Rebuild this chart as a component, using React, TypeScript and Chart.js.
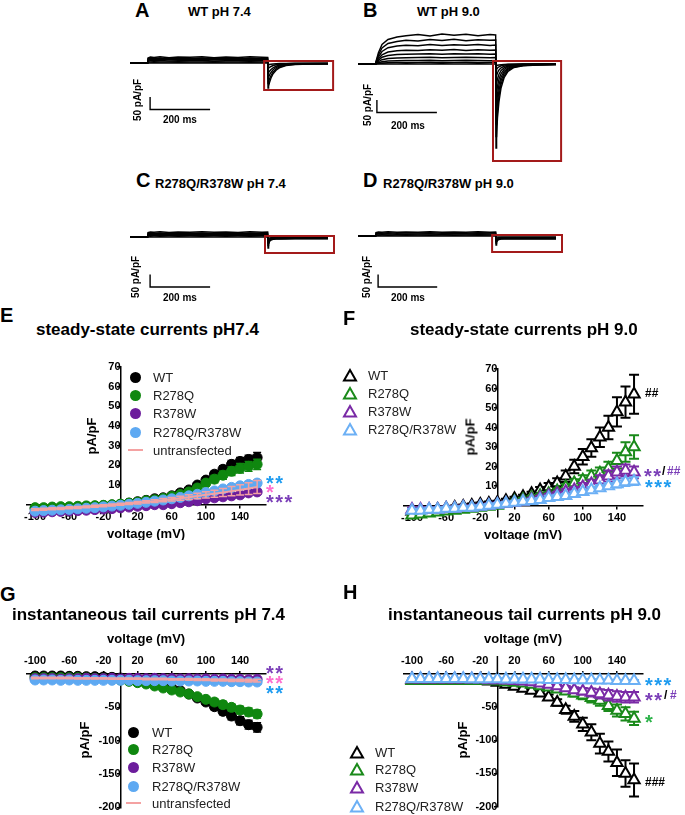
import React, { useEffect, useRef } from "react";
import { Chart, registerables } from "chart.js";
Chart.register(...registerables);

const FONT = "'Liberation Sans', Arial, Helvetica, sans-serif";
Chart.defaults.font.family = FONT;

// ---------------- data ----------------
const voltages = [-100, -90, -80, -70, -60, -50, -40, -30, -20, -10, 0, 10, 20, 30, 40, 50, 60, 70, 80, 90, 100, 110, 120, 130, 140, 150, 160];
const xTickValues = [-100, -60, -20, 20, 60, 100, 140];
const steadyTicks = [10, 20, 30, 40, 50, 60, 70];
const tailTicks = [-50, -100, -150, -200];
const seriesNames = ["WT", "R278Q", "R378W", "R278Q/R378W", "untransfected"];

// E: steady-state pH 7.4
const eWT = [-2, -2, -1.8, -1.6, -1.4, -1.2, -1, -0.8, -0.5, -0.2, 0.2, 0.8, 1.5, 2.2, 3, 3.5, 4.5, 6, 7.5, 10, 12.5, 15.5, 18, 20.5, 22, 23, 24];
const eWTerr = [0.5, 0.5, 0.5, 0.5, 0.5, 0.5, 0.5, 0.5, 0.5, 0.5, 0.5, 0.5, 0.5, 0.5, 0.5, 0.5, 0.8, 1, 1, 1.2, 1.3, 1.5, 1.8, 2, 2, 2.2, 2.5];
const eR278Q = [-1.5, -1.5, -1.2, -1, -1, -0.8, -0.6, -0.5, -0.3, 0, 0.3, 0.8, 1.3, 2, 2.5, 3.2, 4.2, 5.2, 6.5, 8.5, 11, 13, 15, 17, 18.5, 19.5, 20.5];
const eR278Qerr = [0.5, 0.5, 0.5, 0.5, 0.5, 0.5, 0.5, 0.5, 0.5, 0.5, 0.5, 0.5, 0.5, 0.5, 0.6, 0.7, 0.8, 1, 1.2, 1.4, 1.6, 1.8, 2, 2.2, 2.4, 2.5, 2.6];
const eR378W = [-4, -3.8, -3.6, -3.4, -3.2, -3, -2.8, -2.5, -2.2, -2, -1.6, -1.2, -0.8, -0.5, 0, 0, 0.5, 1, 1.5, 2, 3, 3.5, 4, 4.5, 5, 6, 6.5];
const eR378Werr = [0.5, 0.5, 0.5, 0.5, 0.5, 0.5, 0.5, 0.5, 0.5, 0.5, 0.5, 0.5, 0.5, 0.5, 0.5, 0.5, 0.5, 0.6, 0.6, 0.7, 0.8, 0.8, 0.9, 1, 1, 1.1, 1.2];
const eDouble = [-3.3, -3, -2.8, -2.6, -2.4, -2.1, -1.8, -1.5, -1.1, -0.7, -0.3, 0.2, 0.7, 1.2, 1.8, 2.4, 3, 3.7, 4.5, 5.3, 6.2, 7, 8, 8.8, 9.6, 10.3, 11];
const eDoubleErr = [0.5, 0.5, 0.5, 0.5, 0.5, 0.5, 0.5, 0.5, 0.5, 0.5, 0.5, 0.5, 0.5, 0.5, 0.6, 0.6, 0.7, 0.8, 0.9, 1, 1.1, 1.2, 1.3, 1.4, 1.5, 1.6, 1.7];
const eUntr = [-2.5, -2.3, -2.1, -1.9, -1.6, -1.4, -1.1, -0.8, -0.5, -0.2, 0.2, 0.6, 1, 1.4, 1.8, 2.3, 2.8, 3.3, 3.8, 4.4, 5, 5.6, 6.2, 6.9, 7.5, 8.2, 9];
const eUntrErr = [0.5, 0.5, 0.5, 0.5, 0.5, 0.5, 0.5, 0.5, 0.5, 0.5, 0.5, 0.5, 0.6, 0.6, 0.7, 0.8, 0.9, 1, 1.2, 1.4, 1.6, 1.8, 2, 2.3, 2.6, 3, 3.3];

// F: steady-state pH 9.0
const fWT = [-3, -2.6, -2.3, -2, -1.5, -1, -0.5, 0, 0.5, 1, 1.5, 2.5, 3.5, 4.5, 6, 8, 9.5, 11.5, 15, 20, 25, 29.5, 35, 40, 48, 53, 57];
const fWTerr = [1, 1, 1, 1, 1, 1, 1, 1, 1, 1, 1, 1, 1, 1, 1, 1.5, 2, 2.5, 3, 3.5, 4, 4.5, 5, 6, 7.5, 8, 10];
const fR278Q = [-5, -4.5, -4, -3.5, -3, -2.5, -2, -1.5, -1, -0.5, 0, 1, 2, 3, 4, 5, 6, 7.5, 9.5, 11.5, 13, 15, 16.5, 19, 23, 27.5, 30];
const fR278Qerr = [1, 1, 1, 1, 1, 1, 1, 1, 1, 1, 1, 1, 1, 1, 1, 1, 1, 1.2, 1.5, 2, 2.5, 3, 3, 3.5, 4, 5, 6];
const fR378W = [-2, -2, -2, -2, -1.5, -1.5, -1, -1, -0.5, 0, 0.5, 1, 1.5, 2, 3, 4, 5, 6, 7, 8, 9.5, 11, 13, 15, 17, 18, 17];
const fR378Werr = [1, 1, 1, 1, 1, 1, 1, 1, 1, 1, 1, 1, 1, 1, 1, 1, 1, 1, 1.5, 1.5, 2, 2, 2.5, 3, 3, 3, 3];
const fDouble = [-2.5, -2.5, -2, -2, -1.5, -1.5, -1, -1, -0.5, 0, 0.5, 1, 1.5, 2, 2.5, 3, 4, 4.5, 5, 6, 7, 8, 9, 10, 11, 12, 12.5];
const fDoubleErr = [0.8, 0.8, 0.8, 0.8, 0.8, 0.8, 0.8, 0.8, 0.8, 0.8, 0.8, 0.8, 0.8, 0.8, 0.8, 0.8, 1, 1, 1, 1.2, 1.2, 1.5, 1.5, 1.5, 1.8, 2, 2];

// G: tail pH 7.4
const gWT = [-3, -3, -3, -3, -3.5, -3.5, -4, -4, -4.5, -5, -6, -8, -10, -12, -15, -18, -21, -25, -30, -36, -42, -49, -56, -63, -70, -76, -80];
const gWTerr = [1, 1, 1, 1, 1, 1, 1, 1, 1, 1, 1, 1, 1, 1, 1, 1.5, 2, 2.5, 3, 3.5, 4, 4.5, 5, 5.5, 6, 6.5, 7];
const gR278Q = [-5.5, -5.5, -5.5, -5.5, -5.5, -5.5, -6, -6.5, -7, -8, -9, -11, -13, -15, -18, -21, -24, -27, -30, -34, -38, -42, -46, -50, -54, -57, -60];
const gR278Qerr = [1, 1, 1, 1, 1, 1, 1, 1, 1, 1, 1, 1, 1.5, 1.5, 2, 2, 2.5, 2.5, 3, 3.5, 4, 4.5, 5, 5, 5.5, 6, 6];
const gR378W = [-7, -7, -7, -7.5, -7, -7, -6.5, -7, -7, -6.5, -7, -6.5, -6.5, -7, -6.5, -7, -7, -7.5, -7, -7.5, -7.5, -8, -7.5, -8, -8, -8.5, -8];
const gR378Werr = [1, 1, 1, 1, 1, 1, 1, 1, 1, 1, 1, 1, 1, 1, 1, 1, 1, 1, 1, 1, 1, 1, 1, 1, 1, 1, 1];
const gDouble = [-9, -9, -9, -9.5, -9, -9.5, -9.5, -9.5, -9.5, -9.5, -9.5, -9.5, -10, -10, -10, -10, -10.5, -10.5, -10.5, -10.5, -11, -11, -11, -11.5, -11.5, -12, -12];
const gDoubleErr = [1, 1, 1, 1, 1, 1, 1, 1, 1, 1, 1, 1, 1, 1, 1, 1, 1, 1, 1, 1, 1, 1, 1, 1, 1, 1, 1];
const gUntr = [-6, -6, -6, -6, -6, -6.5, -6.5, -6.5, -6.5, -7, -7, -7, -7, -7.5, -7.5, -7.5, -8, -8, -8, -8.5, -8.5, -9, -9, -9.5, -9.5, -10, -10];
const gUntrErr = [1, 1, 1, 1, 1, 1, 1, 1, 1, 1, 1, 1, 1, 1, 1, 1, 1, 1, 1.2, 1.2, 1.4, 1.4, 1.6, 1.6, 1.8, 2, 2];

// H: tail pH 9.0
const hWT = [-8, -8, -8, -8, -8, -8, -9, -9, -10, -11, -13, -16, -19, -22, -25, -29, -35, -43, -54, -64, -76, -88, -105, -117, -134, -150, -160];
const hWTerr = [2, 2, 2, 2, 2, 2, 2, 2, 2, 2, 2, 2, 2, 2, 2, 3, 4, 5, 6, 8, 10, 12, 15, 15, 20, 20, 25];
const hR278Q = [-10, -10, -10, -10, -10, -10, -10, -10, -10, -10, -11, -12, -13, -14, -16, -18, -20, -23, -26, -29, -32, -36, -40, -48, -55, -60, -67];
const hR278Qerr = [2, 2, 2, 2, 2, 2, 2, 2, 2, 2, 2, 2, 2, 2, 2, 3, 3, 4, 4, 5, 6, 7, 8, 8, 9, 10, 10];
const hR378W = [-8, -8, -8, -8, -8, -8, -8, -8, -8, -9, -9, -9.5, -10, -11, -12, -14, -16, -18, -21, -24, -26, -28, -30, -32, -34, -35, -35];
const hR378Werr = [1, 1, 1, 1, 1, 1, 1, 1, 1, 1, 1, 1, 1, 1, 1, 2, 2, 3, 3, 4, 5, 6, 7, 8, 8, 8, 8];
const hDouble = [-7, -7, -7, -7, -7, -7, -7, -7.5, -7.5, -7.5, -7.5, -8, -8, -8, -8, -8, -8.5, -8.5, -8.5, -9, -9, -9, -9.5, -9.5, -10, -10, -10];
const hDoubleErr = [1, 1, 1, 1, 1, 1, 1, 1, 1, 1, 1, 1, 1, 1, 1, 1, 1, 1, 1, 1, 1, 1, 1, 1, 1, 1, 1];

// Current traces (ms, pA/pF)
const traceTimes = [-60, -1, 0, 8, 20, 40, 70, 100, 140, 180, 220, 260, 300, 340, 380, 399, 400, 402, 405, 410, 417, 427, 440, 460, 490, 540, 600];
const traceA = [
  [0, 0, 20, 24, 22, 25, 21, 24, 23, 25, 21, 24, 22, 25, 23, 22, -100, -92, -78, -60, -43, -29, -18, -10, -6, -4, -4],
  [0, 0, 17, 19, 18, 20, 17, 19, 18, 20, 18, 19, 17, 20, 18, 19, -82, -76, -64, -50, -36, -24, -15, -8, -5, -4, -3],
  [0, 0, 12, 14, 13, 15, 13, 14, 14, 15, 13, 14, 13, 15, 14, 14, -62, -57, -48, -38, -27, -18, -11, -6, -4, -3, -3],
  [0, 0, 8, 9, 9, 10, 8, 9, 9, 10, 8, 9, 9, 10, 9, 9, -42, -39, -33, -26, -19, -13, -8, -5, -3, -2, -2],
  [0, 0, 4, 4, 5, 4, 4, 5, 4, 4, 5, 4, 4, 5, 4, 4, -22, -20, -17, -14, -10, -7, -5, -3, -2, -2, -1],
  [0, 0, 0, 0, 1, 0, 0, 1, 0, 0, 1, 0, 0, 1, 0, 0, -8, -7, -6, -5, -4, -3, -2, -2, -1, -1, -1],
];
const traceB = [
  [0, 0, 10, 45, 78, 98, 108, 113, 118, 112, 120, 115, 119, 113, 118, 116, -336, -290, -215, -150, -95, -55, -30, -14, -7, -4, -2],
  [0, 0, 8, 36, 64, 82, 90, 95, 92, 98, 94, 99, 93, 97, 95, 96, -290, -250, -185, -128, -80, -47, -25, -12, -6, -3, -2],
  [0, 0, 6, 28, 50, 65, 72, 75, 73, 78, 74, 77, 75, 78, 74, 76, -240, -205, -152, -105, -66, -38, -20, -10, -5, -3, -2],
  [0, 0, 5, 20, 37, 48, 53, 55, 54, 57, 55, 58, 54, 57, 55, 56, -190, -162, -120, -82, -52, -30, -16, -8, -4, -2, -1],
  [0, 0, 4, 14, 27, 34, 38, 39, 40, 41, 39, 41, 40, 41, 39, 40, -140, -120, -88, -60, -38, -22, -12, -6, -3, -2, -1],
  [0, 0, 3, 9, 17, 22, 24, 25, 26, 27, 25, 26, 27, 26, 25, 26, -95, -80, -60, -41, -26, -15, -8, -4, -2, -1, -1],
  [0, 0, 2, 5, 9, 12, 13, 14, 14, 15, 13, 14, 15, 14, 13, 14, -55, -47, -35, -24, -15, -9, -5, -3, -1, -1, 0],
  [0, 0, 1, 2, 4, 5, 6, 6, 6, 7, 6, 6, 7, 6, 6, 6, -25, -21, -16, -11, -7, -4, -2, -1, -1, 0, 0],
  [0, 0, 0, 0, 1, 0, 0, 1, 0, 0, 1, 0, 0, 1, 0, 0, -8, -7, -5, -4, -3, -2, -1, -1, 0, 0, 0],
];
const traceC = [
  [0, 0, 18, 20, 19, 21, 18, 20, 19, 21, 19, 20, 18, 21, 19, 20, -44, -30, -18, -12, -9, -8, -8, -8, -7, -7, -7],
  [0, 0, 14, 15, 14, 16, 14, 15, 15, 16, 14, 15, 14, 16, 15, 15, -34, -24, -15, -10, -8, -7, -7, -6, -6, -6, -6],
  [0, 0, 9, 10, 10, 11, 9, 10, 10, 11, 9, 10, 10, 11, 10, 10, -24, -17, -11, -8, -6, -5, -5, -5, -5, -5, -5],
  [0, 0, 5, 5, 6, 5, 5, 6, 5, 5, 6, 5, 5, 6, 5, 5, -14, -10, -7, -5, -4, -4, -4, -4, -4, -4, -4],
  [0, 0, 0, 1, 0, 1, 0, 1, 0, 1, 0, 1, 0, 1, 0, 1, -6, -5, -4, -3, -3, -2, -2, -2, -2, -2, -2],
];
const traceD = [
  [0, 0, 14, 16, 15, 17, 15, 16, 15, 17, 15, 16, 15, 17, 15, 16, -36, -26, -18, -14, -12, -12, -12, -12, -12, -12, -12],
  [0, 0, 11, 12, 11, 13, 11, 12, 12, 13, 11, 12, 11, 13, 12, 12, -28, -21, -15, -12, -11, -10, -10, -10, -10, -10, -10],
  [0, 0, 7, 8, 8, 9, 7, 8, 8, 9, 7, 8, 8, 9, 8, 8, -20, -15, -11, -9, -8, -8, -8, -8, -8, -8, -8],
  [0, 0, 4, 4, 5, 4, 4, 5, 4, 4, 5, 4, 4, 5, 4, 4, -12, -10, -8, -7, -6, -6, -6, -6, -6, -6, -6],
  [0, 0, 0, 1, 0, 1, 0, 1, 0, 1, 0, 1, 0, 1, 0, 1, -6, -5, -4, -4, -4, -4, -4, -4, -4, -4, -4],
];
// tail-window boxes [t0, t1, I top, I bottom] and scale bars [t, I top, I bottom, t end]
const boxA = [387, 617, 8, -108];
const boxB = [390, 617, 12, -388];
const boxC = [390, 620, 4, -64];
const boxD = [387, 620, 4, -64];
const barA = [7, -136, -186, 207];
const barB = [3, -144, -194, 203];
const barC = [7, -150, -200, 207];
const barD = [7, -154, -204, 204];

// ---------------- styles ----------------
const C_E = { wt: "#000000", r278q: "#0f870f", r378w: "#6c1d9c", dbl: "#5ea9f2", untr: "#f4a2a2" };
const C_F = { wt: "#000000", r278q: "#1a8a1a", r378w: "#7a2aa6", dbl: "#6cb0f5" };
const STAR = { blue: "#1f9cf0", pink: "#ff6fd0", purple: "#7b3fb8", green: "#2db34a" };

// ---------------- plugins ----------------
const errorBarPlugin = {
  id: "errorBars",
  beforeDatasetDraw(chart: any, args: any) {
    const ds: any = chart.data.datasets[args.index];
    if (!ds.errors) return;
    const yS = chart.scales.y;
    const ctx = chart.ctx;
    ctx.save();
    ctx.strokeStyle = ds.errColor;
    ctx.lineWidth = ds.errWidth || 1.5;
    const c = ds.capHalf || 4;
    args.meta.data.forEach((pt: any, i: number) => {
      const v = ds.data[i].y;
      const e = ds.errors[i];
      if (!e) return;
      const yt = yS.getPixelForValue(v + e);
      const yb = yS.getPixelForValue(v - e);
      ctx.beginPath();
      ctx.moveTo(pt.x, yt);
      ctx.lineTo(pt.x, yb);
      ctx.moveTo(pt.x - c, yt);
      ctx.lineTo(pt.x + c, yt);
      ctx.moveTo(pt.x - c, yb);
      ctx.lineTo(pt.x + c, yb);
      ctx.stroke();
    });
    ctx.restore();
  },
};

const axisStubPlugin = {
  id: "axisStub",
  afterDraw(chart: any, _a: any, opts: any) {
    const x0 = chart.scales.x.getPixelForValue(0);
    const top = chart.chartArea.top;
    const ctx = chart.ctx;
    ctx.save();
    ctx.strokeStyle = "#000";
    ctx.lineWidth = 1.5;
    ctx.beginPath();
    ctx.moveTo(x0, top);
    ctx.lineTo(x0, top - (opts.length || 18));
    ctx.stroke();
    ctx.restore();
  },
};

const traceDecoPlugin = {
  id: "traceDeco",
  afterDatasetsDraw(chart: any, _a: any, opts: any) {
    const xs = chart.scales.x;
    const ys = chart.scales.y;
    const ctx = chart.ctx;
    const [t0, t1, i0, i1] = opts.box;
    ctx.save();
    ctx.strokeStyle = "#a31a1a";
    ctx.lineWidth = 2;
    const bx = xs.getPixelForValue(t0);
    const by = ys.getPixelForValue(i0);
    ctx.strokeRect(bx, by, xs.getPixelForValue(t1) - bx, ys.getPixelForValue(i1) - by);
    const [tb, ib0, ib1, tb1] = opts.bar;
    ctx.strokeStyle = "#000";
    ctx.lineWidth = 1.4;
    ctx.beginPath();
    ctx.moveTo(xs.getPixelForValue(tb), ys.getPixelForValue(ib0));
    ctx.lineTo(xs.getPixelForValue(tb), ys.getPixelForValue(ib1));
    ctx.lineTo(xs.getPixelForValue(tb1), ys.getPixelForValue(ib1));
    ctx.stroke();
    ctx.restore();
  },
};

// ---------------- config builders ----------------
const tickFont = { size: 11, weight: "bold" as const, family: FONT };
const axisTitleFont = { size: 13, weight: "bold" as const, family: FONT };

function pts(vals: number[]) {
  return voltages.map((v, i) => ({ x: v, y: vals[i] }));
}

function circleSet(i: number, vals: number[], errs: number[], color: string) {
  return {
    label: seriesNames[i],
    data: pts(vals),
    errors: errs,
    errColor: color,
    errWidth: 1.5,
    capHalf: 4,
    showLine: false,
    pointStyle: "circle",
    pointRadius: 5,
    pointBorderWidth: 1,
    pointBackgroundColor: color,
    pointBorderColor: color,
    borderColor: color,
    backgroundColor: color,
    order: 4 - i,
    clip: false,
  };
}

function triSet(i: number, vals: number[], errs: number[], color: string) {
  return {
    label: seriesNames[i],
    data: pts(vals),
    errors: errs,
    errColor: color,
    errWidth: 2,
    capHalf: 5,
    showLine: false,
    pointStyle: "triangle",
    pointRadius: 6.5,
    pointBorderWidth: 2,
    pointBackgroundColor: "#ffffff",
    pointBorderColor: color,
    borderColor: color,
    backgroundColor: "#ffffff",
    order: 4 - i,
    clip: false,
  };
}

function lineSet(i: number, vals: number[], errs: number[], color: string) {
  return {
    label: seriesNames[i],
    data: pts(vals),
    errors: errs,
    errColor: color,
    errWidth: 1.5,
    capHalf: 4,
    showLine: true,
    borderColor: color,
    borderWidth: 2,
    pointRadius: 0,
    tension: 0,
    order: 4 - i,
    clip: false,
  };
}

function xAxisBase() {
  return {
    type: "linear",
    min: -110,
    max: 170,
    afterBuildTicks: (s: any) => {
      s.ticks = xTickValues.map((v) => ({ value: v }));
    },
    ticks: { autoSkip: false, maxRotation: 0, font: tickFont, color: "#000", padding: 3 },
    grid: { drawOnChartArea: false, drawTicks: true, tickLength: 3, color: "#000", lineWidth: 1.5 },
    border: { display: true, color: "#000", width: 1.5 },
  };
}

function yAxisBase(min: number, max: number, tickVals: number[]) {
  return {
    type: "linear",
    min,
    max,
    position: { x: 0 },
    afterBuildTicks: (s: any) => {
      s.ticks = tickVals.map((v) => ({ value: v }));
    },
    ticks: { autoSkip: false, font: tickFont, color: "#000", padding: 1 },
    grid: { drawOnChartArea: false, drawTicks: true, tickLength: 3, color: "#000", lineWidth: 1.5 },
    border: { display: true, color: "#000", width: 1.5 },
    title: { display: false },
  };
}

function steadyConfig(datasets: any[], padding: any) {
  return {
    type: "line",
    data: { datasets },
    options: {
      responsive: false,
      animation: false,
      events: [],
      layout: { padding },
      plugins: { legend: { display: false }, tooltip: { enabled: false } },
      scales: {
        x: {
          ...xAxisBase(),
          position: { y: 0 },
          title: { display: true, text: "voltage (mV)", font: axisTitleFont, color: "#000", padding: { top: 0, bottom: 0 } },
        },
        y: yAxisBase(-6, 70, steadyTicks),
      },
    },
    plugins: [errorBarPlugin],
  };
}

function tailConfig(datasets: any[], padding: any) {
  return {
    type: "line",
    data: { datasets },
    options: {
      responsive: false,
      animation: false,
      events: [],
      layout: { padding },
      plugins: { legend: { display: false }, tooltip: { enabled: false }, axisStub: { length: 18 } },
      scales: {
        x: {
          ...xAxisBase(),
          position: "top",
          title: { display: true, text: "voltage (mV)", font: axisTitleFont, color: "#000", padding: { top: 0, bottom: 5 } },
        },
        y: yAxisBase(-200, 0, tailTicks),
      },
    },
    plugins: [errorBarPlugin, axisStubPlugin],
  };
}

function traceConfig(traces: number[][], yMin: number, yMax: number, box: number[], bar: number[]) {
  return {
    type: "line",
    data: {
      datasets: traces.map((v) => ({
        data: traceTimes.map((t, i) => ({ x: t, y: v[i] })),
        borderColor: "#000",
        borderWidth: 1.4,
        pointRadius: 0,
        tension: 0,
        fill: false,
      })),
    },
    options: {
      responsive: false,
      animation: false,
      events: [],
      layout: { padding: 0 },
      plugins: { legend: { display: false }, tooltip: { enabled: false }, traceDeco: { box, bar } },
      scales: {
        x: { type: "linear", display: false, min: -70, max: 640 },
        y: { type: "linear", display: false, min: yMin, max: yMax },
      },
    },
    plugins: [traceDecoPlugin],
  };
}

// ---------------- components ----------------
function ChartBox({ left, top, width, height, make }: { left: number; top: number; width: number; height: number; make: () => any }) {
  const ref = useRef<HTMLCanvasElement>(null);
  useEffect(() => {
    const chart = new Chart(ref.current as HTMLCanvasElement, make());
    return () => chart.destroy();
  }, []);
  return <canvas ref={ref} width={width} height={height} style={{ position: "absolute", left, top, width, height }} />;
}

function Txt({ x, cy, size, bold = true, color = "#000", children }: any) {
  return (
    <div
      style={{
        position: "absolute",
        left: x,
        top: cy - 0.49 * size,
        fontSize: size,
        lineHeight: 1,
        fontWeight: bold ? "bold" : "normal",
        color,
        whiteSpace: "nowrap",
      }}
    >
      {children}
    </div>
  );
}

function RotTxt({ cx, cy, size, children }: any) {
  return (
    <div
      style={{
        position: "absolute",
        left: cx,
        top: cy,
        fontSize: size,
        lineHeight: 1,
        fontWeight: "bold",
        whiteSpace: "nowrap",
        transform: "translate(-50%,-50%) rotate(-90deg)",
      }}
    >
      {children}
    </div>
  );
}

function Stars({ x, cy, text, color, size = 20 }: any) {
  return (
    <div
      style={{
        position: "absolute",
        left: x,
        top: cy - 0.262 * size,
        fontSize: size,
        lineHeight: 1,
        fontWeight: "bold",
        color,
        letterSpacing: 1.5,
        whiteSpace: "nowrap",
      }}
    >
      {text}
    </div>
  );
}

function Circle({ cx, cy, color }: any) {
  return <div style={{ position: "absolute", left: cx - 5.5, top: cy - 5.5, width: 11, height: 11, borderRadius: "50%", background: color }} />;
}
function LegLine({ cx, cy, color }: any) {
  return <div style={{ position: "absolute", left: cx - 7.5, top: cy - 1, width: 15, height: 2, background: color }} />;
}
function Tri({ cx, cy, color }: any) {
  return (
    <svg style={{ position: "absolute", left: cx - 8, top: cy - 7 }} width={16} height={14}>
      <polygon points="8,2 14,12.5 2,12.5" fill="#fff" stroke={color} strokeWidth={2} strokeLinejoin="miter" />
    </svg>
  );
}

function LegendRows({ mx, tx, rows, colors, kind }: any) {
  return (
    <>
      {rows.map((cy: number, i: number) => (
        <React.Fragment key={i}>
          {kind === "tri" ? (
            <Tri cx={mx} cy={cy} color={colors[i]} />
          ) : i === 4 ? (
            <LegLine cx={mx} cy={cy} color={colors[i]} />
          ) : (
            <Circle cx={mx} cy={cy} color={colors[i]} />
          )}
          <Txt x={tx} cy={cy} size={13} bold={false} color="#222">
            {seriesNames[i]}
          </Txt>
        </React.Fragment>
      ))}
    </>
  );
}

export default function App() {
  const eColors = [C_E.wt, C_E.r278q, C_E.r378w, C_E.dbl, C_E.untr];
  const fColors = [C_F.wt, C_F.r278q, C_F.r378w, C_F.dbl];

  const makeE = () =>
    steadyConfig(
      [
        circleSet(0, eWT, eWTerr, C_E.wt),
        circleSet(1, eR278Q, eR278Qerr, C_E.r278q),
        circleSet(2, eR378W, eR378Werr, C_E.r378w),
        circleSet(3, eDouble, eDoubleErr, C_E.dbl),
        lineSet(4, eUntr, eUntrErr, C_E.untr),
      ],
      { left: 26.56, right: 74.32, top: 27, bottom: 23.5 }
    );
  const makeF = () =>
    steadyConfig(
      [
        triSet(0, fWT, fWTerr, C_F.wt),
        triSet(1, fR278Q, fR278Qerr, C_F.r278q),
        triSet(2, fR378W, fR378Werr, C_F.r378w),
        triSet(3, fDouble, fDoubleErr, C_F.dbl),
      ],
      { left: 63.46, right: 42.42, top: 29, bottom: 22.8 }
    );
  const makeG = () =>
    tailConfig(
      [
        circleSet(0, gWT, gWTerr, C_E.wt),
        circleSet(1, gR278Q, gR278Qerr, C_E.r278q),
        circleSet(2, gR378W, gR378Werr, C_E.r378w),
        circleSet(3, gDouble, gDoubleErr, C_E.dbl),
        lineSet(4, gUntr, gUntrErr, C_E.untr),
      ],
      { left: 26.56, right: 74.32, top: 11.2, bottom: 6.5 }
    );
  const makeH = () =>
    tailConfig(
      [
        triSet(0, hWT, hWTerr, C_F.wt),
        triSet(1, hR278Q, hR278Qerr, C_F.r278q),
        triSet(2, hR378W, hR378Werr, C_F.r378w),
        triSet(3, hDouble, hDoubleErr, C_F.dbl),
      ],
      { left: 63.46, right: 42.42, top: 11.2, bottom: 6 }
    );

  return (
    <div style={{ position: "fixed", left: 0, top: 0, width: 685, height: 815, background: "#fff", overflow: "hidden", fontFamily: FONT, color: "#000" }}>
      {/* Traces A-D */}
      <ChartBox left={127} top={25} width={213} height={110} make={() => traceConfig(traceA, -288, 152, boxA, barA)} />
      <ChartBox left={355} top={25} width={213} height={140} make={() => traceConfig(traceB, -404, 156, boxB, barB)} />
      <ChartBox left={127} top={200} width={213} height={105} make={() => traceConfig(traceC, -272, 148, boxC, barC)} />
      <ChartBox left={355} top={200} width={213} height={105} make={() => traceConfig(traceD, -276, 144, boxD, barD)} />

      <Txt x={135} cy={10} size={20}>A</Txt>
      <Txt x={188} cy={11} size={13}>WT pH 7.4</Txt>
      <Txt x={363} cy={10} size={20}>B</Txt>
      <Txt x={417} cy={11} size={13}>WT pH 9.0</Txt>
      <Txt x={136} cy={180} size={20}>C</Txt>
      <Txt x={155} cy={183} size={13}>R278Q/R378W pH 7.4</Txt>
      <Txt x={363} cy={180} size={20}>D</Txt>
      <Txt x={383} cy={183} size={13}>R278Q/R378W pH 9.0</Txt>

      <RotTxt cx={138} cy={100} size={10}>50 pA/pF</RotTxt>
      <Txt x={163} cy={120} size={10}>200 ms</Txt>
      <RotTxt cx={368} cy={105} size={10}>50 pA/pF</RotTxt>
      <Txt x={391} cy={126} size={10}>200 ms</Txt>
      <RotTxt cx={136} cy={277} size={10}>50 pA/pF</RotTxt>
      <Txt x={163} cy={298} size={10}>200 ms</Txt>
      <RotTxt cx={367} cy={277} size={10}>50 pA/pF</RotTxt>
      <Txt x={391} cy={298} size={10}>200 ms</Txt>

      {/* E */}
      <ChartBox left={0} top={340} width={340} height={200} make={makeE} />
      <Txt x={0} cy={315} size={20}>E</Txt>
      <Txt x={36} cy={329} size={17}>steady-state currents pH7.4</Txt>
      <RotTxt cx={91} cy={436} size={13}>pA/pF</RotTxt>
      <LegendRows mx={135} tx={153} rows={[377, 395, 413, 432, 450]} colors={eColors} kind="circle" />
      <Stars x={266} cy={478} text="**" color={STAR.blue} />
      <Stars x={266} cy={487} text="*" color={STAR.pink} />
      <Stars x={266} cy={497} text="***" color={STAR.purple} />

      {/* F */}
      <ChartBox left={340} top={340} width={345} height={200} make={makeF} />
      <Txt x={343} cy={318} size={20}>F</Txt>
      <Txt x={410} cy={329} size={17}>steady-state currents pH 9.0</Txt>
      <RotTxt cx={470} cy={437} size={13}>pA/pF</RotTxt>
      <LegendRows mx={350} tx={368} rows={[375, 393, 411, 429]} colors={fColors} kind="tri" />
      <Txt x={645} cy={393} size={12}>##</Txt>
      <Stars x={644} cy={471} text="**" color={STAR.purple} />
      <Txt x={662} cy={471} size={12}>/</Txt>
      <Txt x={667} cy={471} size={12} color={STAR.purple}>##</Txt>
      <Stars x={645} cy={482} text="***" color={STAR.blue} />

      {/* G */}
      <ChartBox left={0} top={620} width={340} height={195} make={makeG} />
      <Txt x={0} cy={594} size={20}>G</Txt>
      <Txt x={12} cy={614} size={17}>instantaneous tail currents pH 7.4</Txt>
      <RotTxt cx={84} cy={740} size={13}>pA/pF</RotTxt>
      <LegendRows mx={133} tx={152} rows={[732, 749, 767, 786, 803]} colors={eColors} kind="circle" />
      <Stars x={266} cy={668} text="**" color={STAR.purple} />
      <Stars x={266} cy={678} text="**" color={STAR.pink} />
      <Stars x={266} cy={688} text="**" color={STAR.blue} />

      {/* H */}
      <ChartBox left={340} top={620} width={345} height={195} make={makeH} />
      <Txt x={343} cy={592} size={20}>H</Txt>
      <Txt x={388} cy={614} size={17}>instantaneous tail currents pH 9.0</Txt>
      <RotTxt cx={462} cy={740} size={13}>pA/pF</RotTxt>
      <LegendRows mx={357} tx={375} rows={[752, 769, 787, 806]} colors={fColors} kind="tri" />
      <Stars x={645} cy={680} text="***" color={STAR.blue} />
      <Stars x={645} cy={695} text="**" color={STAR.purple} />
      <Txt x={664} cy={695} size={12}>/</Txt>
      <Txt x={670} cy={695} size={12} color={STAR.purple}>#</Txt>
      <Stars x={645} cy={717} text="*" color={STAR.green} />
      <Txt x={645} cy={782} size={12}>###</Txt>
    </div>
  );
}
